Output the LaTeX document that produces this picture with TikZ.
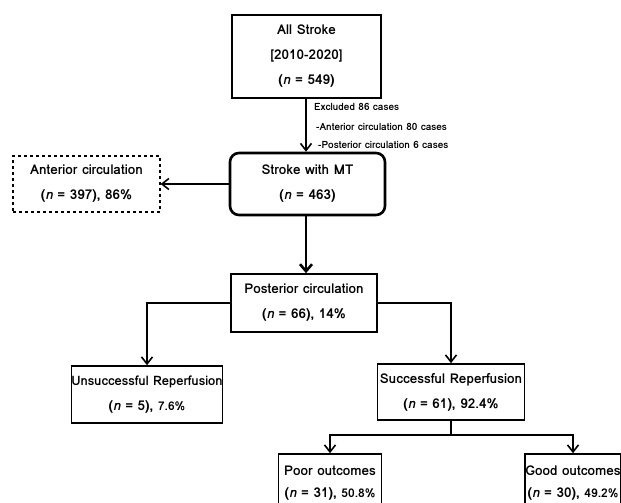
\documentclass[tikz,border=0pt]{standalone}
\usepackage{fontspec}
\setmainfont{Loma}
\usetikzlibrary{arrows.meta}
\begin{document}
\begin{tikzpicture}[x=1pt,y=-1pt,
  box/.style={draw=black,line width=1.6pt,align=center,inner sep=0pt,
    font=\fontsize{13.5}{25}\selectfont\bfseries},
  arr/.style={line width=1.6pt,-{Straight Barb[length=7pt,width=11pt]}},
  tarr/.style={line width=2.6pt,-{Straight Barb[length=7pt,width=12pt]}},
  ln/.style={line width=1.6pt},
  note/.style={anchor=west,inner sep=0pt,font=\fontsize{10}{10}\selectfont\bfseries}]
\useasboundingbox[fill=white] (0,0) rectangle (621,503);
\clip (0,0) rectangle (621,503);
\node[box,minimum width=149pt,minimum height=83pt] (all) at (306.5,56.5)
  {All Stroke\\{[}2010-2020{]}\\(\textit{n} = 549)};
\node[box,line width=2.6pt,rounded corners=9pt,minimum width=155pt,minimum height=62pt] (mt) at (307.5,184)
  {Stroke with MT\\(\textit{n} = 463)};
\node[box,dashed,line width=1.2pt,minimum width=147pt,minimum height=56pt] (ant) at (86.5,184)
  {Anterior circulation\\(\textit{n} = 397), 86\%};
\node[box,minimum width=146pt,minimum height=58pt] (post) at (304,303)
  {Posterior circulation\\(\textit{n} = 66), 14\%};
\node[box,minimum width=151pt,minimum height=57pt] (uns) at (147,394.5)
  {{\fontsize{13}{25}\selectfont Unsuccessful Reperfusion}\\(\textit{n} = 5), {\fontsize{12}{25}\selectfont 7.6\%}};
\node[box,minimum width=147pt,minimum height=56pt] (suc) at (451,392)
  {Successful Reperfusion\\(\textit{n} = 61), 92.4\%};
\node[box,font=\fontsize{13.5}{22}\selectfont\bfseries,minimum width=103pt,minimum height=58pt] (poor) at (330,483)
  {Poor outcomes\\(\textit{n} = 31), {\fontsize{12}{22}\selectfont 50.8\%}};
\node[box,font=\fontsize{13.5}{22}\selectfont\bfseries,minimum width=96pt,minimum height=58pt] (good) at (573,483)
  {Good outcomes\\(\textit{n} = 30), {\fontsize{12}{22}\selectfont 49.2\%}};
\node[note] (ex1) at (314,107) {Excluded 86 cases};
\node[note] (ex2) at (316,127) {-Anterior circulation 80 cases};
\node[note] (ex3) at (318,145) {-Posterior circulation 6 cases};
\draw[arr] (all.south -| 306,0) -- (mt.north -| 306,0);
\draw[arr] (mt.west) -- (ant.east);
\draw[tarr] (mt.south -| 306,0) -- (post.north -| 306,0);
\draw[arr] (post.west) -| (uns.north);
\draw[arr] (post.east) -| (suc.north);
\coordinate (split) at (451,435);
\draw[ln] (suc.south) -- (split);
\draw[arr] (split) -| (poor.north);
\draw[arr] (split) -| (good.north);
\end{tikzpicture}
\end{document}
